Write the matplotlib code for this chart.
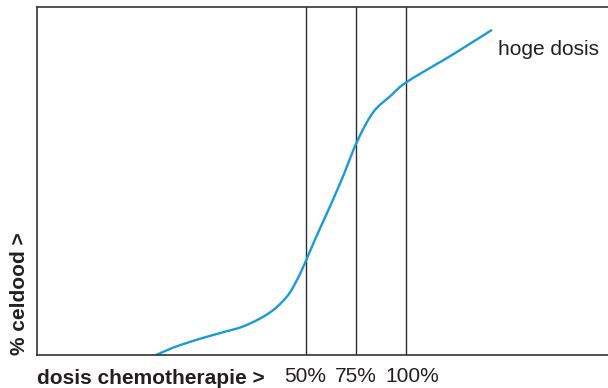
import matplotlib
matplotlib.use("Agg")
import matplotlib.pyplot as plt
import matplotlib.transforms as mtransforms
import numpy as np

plt.rcParams['font.family'] = ['Liberation Sans', 'DejaVu Sans']

dosis = [-24.4, -15.9, -4.0, 7.5, 19.9, 32.3, 40.8, 45.8, 49.8, 54.7,
         61.7, 68.7, 75.6, 83.6, 92.0, 100.5, 121.5, 142.8]
celdood = [0.0, 2.1, 4.4, 6.3, 8.4, 12.2, 16.8, 21.6, 26.5, 33.1,
           42.0, 51.3, 61.2, 69.6, 74.2, 78.4, 85.6, 93.3]

dosis_lijnen = [50, 75, 100]
dosis_labels = ['50%', '75%', '100%']


def vloeiend(x, y, n=12):
    p = np.column_stack([x, y])
    p = np.vstack([p[0], p, p[-1]])
    uit = []
    t = np.linspace(0, 1, n, endpoint=False)[:, None]
    for i in range(1, len(p) - 2):
        p0, p1, p2, p3 = p[i - 1], p[i], p[i + 1], p[i + 2]
        uit.append(0.5 * ((2 * p1) + (-p0 + p2) * t
                          + (2 * p0 - 5 * p1 + 4 * p2 - p3) * t ** 2
                          + (-p0 + 3 * p1 - 3 * p2 + p3) * t ** 3))
    uit.append(p[-2][None, :])
    uit = np.vstack(uit)
    return uit[:, 0], uit[:, 1]


fig = plt.figure(figsize=(6.08, 3.88), dpi=100)
ax = fig.add_axes([37 / 608, 33 / 388, 1 - 37 / 608, (355 - 6.5) / 388])

for x in dosis_lijnen:
    ax.axvline(x, color='#2b2b2b', lw=1.0)

xs, ys = vloeiend(dosis, celdood)
ax.plot(xs, ys, color='#1a9ad6', lw=1.7, solid_capstyle='butt')
ax.text(145.8, 87.8, 'hoge dosis', fontsize=15, color='#231f20',
        ha='left', va='center')

ax.set_xlim(-83.6, 200.5)
ax.set_ylim(0, 100)

for side in ['left', 'top', 'bottom']:
    ax.spines[side].set_color('#333333')
    ax.spines[side].set_linewidth(1.2)
ax.spines['right'].set_visible(False)

ax.set_xticks(dosis_lijnen)
ax.set_xticklabels(dosis_labels, fontsize=15, color='#231f20')
ax.tick_params(axis='x', length=0, pad=9)
ax.set_yticks([])
# 100% staat iets rechts van de lijn
lbl = ax.get_xticklabels()[-1]
lbl.set_transform(lbl.get_transform()
                  + mtransforms.ScaledTranslation(6 / 100, 0, fig.dpi_scale_trans))

fig.text(37 / 608, 1 - 379 / 388, 'dosis chemotherapie >', fontsize=15,
         fontweight='bold', color='#231f20', ha='left', va='center')
fig.text(20 / 608, 33 / 388, '% celdood >', fontsize=15, fontweight='bold',
         color='#231f20', rotation=90, ha='center', va='bottom')

fig.savefig('out.png', dpi=100)
